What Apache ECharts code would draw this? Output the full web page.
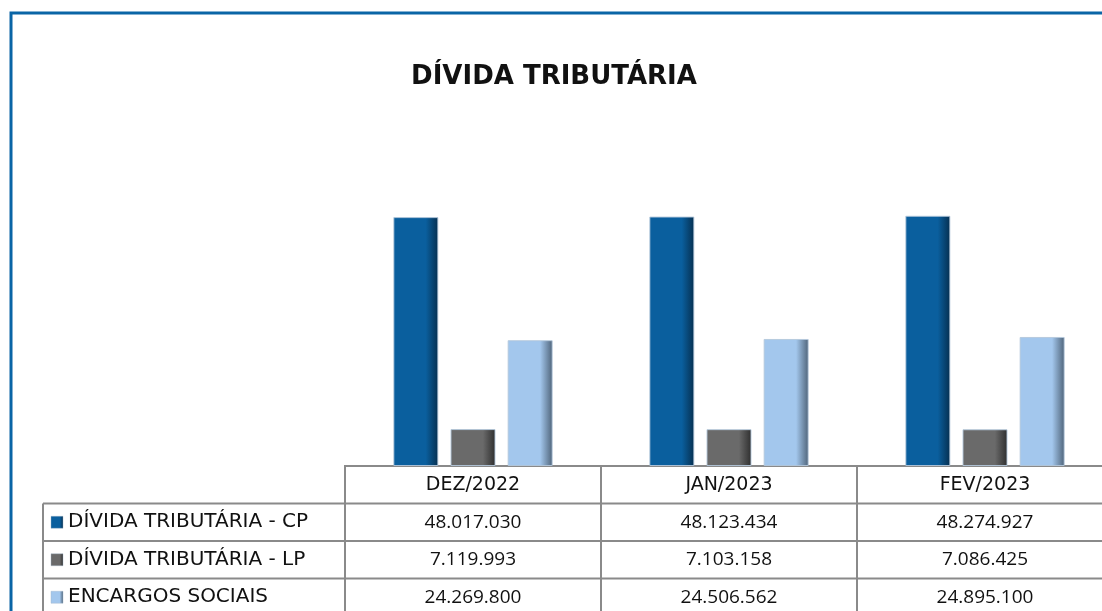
<!DOCTYPE html>
<html>
<head>
<meta charset="utf-8">
<script src="https://cdn.jsdelivr.net/npm/echarts@6/dist/echarts.min.js"></script>
<style>
  html, body { margin: 0; padding: 0; background: #fff; overflow: hidden; }
  #chart { width: 1113px; height: 611px; }
</style>
</head>
<body>
<div id="chart"></div>
<script>
// dados
const titulo = 'DÍVIDA TRIBUTÁRIA';
const meses = ['DEZ/2022', 'JAN/2023', 'FEV/2023'];
const nomesSeries = ['DÍVIDA TRIBUTÁRIA - CP', 'DÍVIDA TRIBUTÁRIA - LP', 'ENCARGOS SOCIAIS'];
const dividaCP = [48017030, 48123434, 48274927];
const dividaLP = [7119993, 7103158, 7086425];
const encargos = [24269800, 24506562, 24895100];

const valores = [dividaCP, dividaLP, encargos];
const cores = ['#0a5f9e', '#6a6a6a', '#a3c7ed'];
const coresEscuras = ['#062f4f', '#2e2e2e', '#4e6378'];

// layout
const gridLeft = 345;
const colW = 256;
const baseY = 466;
const rowH = 37.5;
const tableLeft = 43;
const fonte = '"DejaVu Sans", sans-serif';
const fonteNum = '"Open Sans", sans-serif';
const linha = '#8a8a8a';

function fmt(v) {
  return String(v).replace(/\B(?=(\d{3})+(?!\d))/g, '.');
}

function barColor(i) {
  return new echarts.graphic.LinearGradient(0, 0, 1, 0, [
    { offset: 0, color: cores[i] },
    { offset: 0.72, color: cores[i] },
    { offset: 1, color: coresEscuras[i] }
  ]);
}

const series = valores.map((dados, i) => ({
  name: nomesSeries[i],
  type: 'bar',
  data: dados,
  barWidth: 45,
  barGap: '27%',
  itemStyle: {
    color: barColor(i),
    borderColor: 'rgba(180,200,220,0.9)',
    borderWidth: 1
  },
  emphasis: { disabled: true }
}));

// tabela de dados
const graficos = [];
// moldura
graficos.push({
  type: 'rect',
  shape: { x: 11, y: 13, width: 1200, height: 700 },
  style: { fill: 'none', stroke: '#0a65a6', lineWidth: 3 },
  silent: true
});
// cabeçalho
meses.forEach((m, j) => {
  const x = gridLeft + j * colW;
  graficos.push({
    type: 'text',
    x: x + colW / 2,
    y: baseY + rowH / 2,
    style: { text: m, fill: '#111', font: '19px ' + fonte, align: 'center', verticalAlign: 'middle' },
    silent: true
  });
});
// linhas
nomesSeries.forEach((nome, i) => {
  const y = baseY + (i + 1) * rowH;
  graficos.push({
    type: 'rect',
    shape: { x: 51, y: y + rowH / 2 - 6, width: 12, height: 12 },
    style: { fill: barColor(i), stroke: 'rgba(160,180,200,0.8)', lineWidth: 0.5 },
    silent: true
  });
  graficos.push({
    type: 'text',
    x: 68,
    y: y + rowH / 2,
    style: { text: nome, fill: '#111', font: '20px ' + fonte, align: 'left', verticalAlign: 'middle' },
    silent: true
  });
  meses.forEach((m, j) => {
    graficos.push({
      type: 'text',
      x: gridLeft + j * colW + colW / 2,
      y: y + rowH / 2,
      style: { text: fmt(valores[i][j]), fill: '#111', font: '19px ' + fonteNum, align: 'center', verticalAlign: 'middle' },
      silent: true
    });
  });
});
// grade da tabela
const rightX = gridLeft + meses.length * colW;
const bottomY = baseY + 4 * rowH;
graficos.push({
  type: 'polyline',
  shape: { points: [[gridLeft, bottomY + 5], [gridLeft, baseY], [rightX, baseY]] },
  style: { stroke: linha, lineWidth: 2, fill: null },
  silent: true
});
for (let j = 1; j <= meses.length; j++) {
  graficos.push({
    type: 'line',
    shape: { x1: gridLeft + j * colW, y1: baseY, x2: gridLeft + j * colW, y2: bottomY + 5 },
    style: { stroke: linha, lineWidth: 2 },
    silent: true
  });
}
for (let i = 1; i <= nomesSeries.length; i++) {
  graficos.push({
    type: 'line',
    shape: { x1: tableLeft, y1: baseY + i * rowH, x2: rightX, y2: baseY + i * rowH },
    style: { stroke: linha, lineWidth: 2 },
    silent: true
  });
}
graficos.push({
  type: 'line',
  shape: { x1: tableLeft, y1: baseY + rowH, x2: tableLeft, y2: bottomY + 5 },
  style: { stroke: linha, lineWidth: 2 },
  silent: true
});

const chart = echarts.init(document.getElementById('chart'), null, { renderer: 'canvas' });
chart.setOption({
  animation: false,
  backgroundColor: '#fff',
  title: {
    text: titulo,
    left: 549,
    top: 59,
    textAlign: 'center',
    textStyle: { fontFamily: fonte, fontWeight: 'bold', fontSize: 26, color: '#111' }
  },
  legend: { show: false },
  grid: { left: gridLeft, width: colW * meses.length, top: baseY - 311, height: 311 },
  xAxis: {
    type: 'category',
    data: meses,
    axisLine: { show: false },
    axisTick: { show: false },
    axisLabel: { show: false }
  },
  yAxis: {
    type: 'value',
    min: 0,
    max: 60000000,
    show: false,
    splitLine: { show: false }
  },
  series: series,
  graphic: graficos
});
</script>
</body>
</html>
